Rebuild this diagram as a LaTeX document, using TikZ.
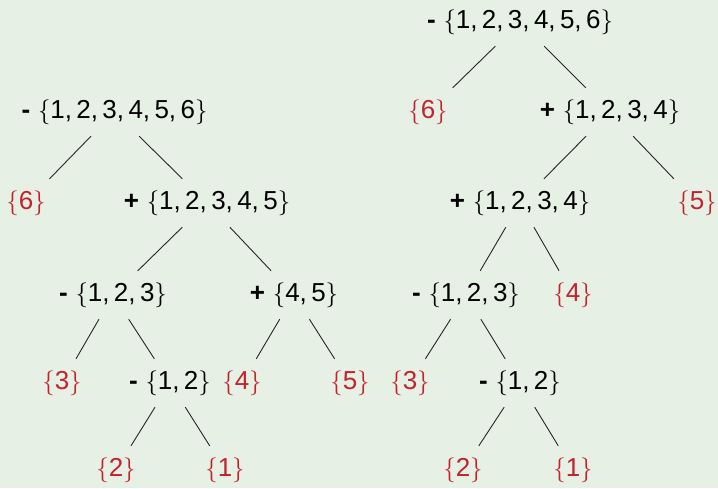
\documentclass[tikz,border=0pt]{standalone}
\usepackage{fontspec}
\setmainfont{Liberation Sans}
\definecolor{bg}{HTML}{E6F0E4}
\definecolor{leafred}{HTML}{C4232B}
\newcommand{\sset}[1]{$\{$#1$\}$}
\newcommand{\opm}{\textbf{-}\hspace{0.3em}}
\newcommand{\opp}{\textbf{+}\hspace{0.3em}}
\begin{document}
\begin{tikzpicture}[x=1pt,y=-1pt,
  every node/.style={font=\fontsize{26}{30}\selectfont, minimum height=48pt, minimum width=50pt, inner sep=0pt},
  leafset/.style={text=leafred},
  edge/.style={draw=black!85, line width=0.9pt}]
\useasboundingbox (0,0) rectangle (718,488);
\fill[bg] (0,0) rectangle (718,488);
% left tree
\node (L0) at (114.5,112) {\opm\sset{1,\,2,\,3,\,4,\,5,\,6}};
\node[leafset] (L1) at (26,203) {\sset{6}};
\node (L2) at (207,203) {\opp\sset{1,\,2,\,3,\,4,\,5}};
\node (L3) at (113,295) {\opm\sset{1,\,2,\,3}};
\node (L4) at (294,295) {\opp\sset{4,\,5}};
\node[leafset] (L5) at (62,383) {\sset{3}};
\node (L6) at (170,383) {\opm\sset{1,\,2}};
\node[leafset] (L7) at (242,383) {\sset{4}};
\node[leafset] (L8) at (350,383) {\sset{5}};
\node[leafset] (L9) at (116,470) {\sset{2}};
\node[leafset] (L10) at (225,470) {\sset{1}};
\draw[edge] (L0) -- (L1);
\draw[edge] (L0) -- (L2);
\draw[edge] (L2) -- (L3);
\draw[edge] (L2) -- (L4);
\draw[edge] (L3) -- (L5);
\draw[edge] (L3) -- (L6);
\draw[edge] (L4) -- (L7);
\draw[edge] (L4) -- (L8);
\draw[edge] (L6) -- (L9);
\draw[edge] (L6) -- (L10);
% right tree
\node (R0) at (520,22) {\opm\sset{1,\,2,\,3,\,4,\,5,\,6}};
\node[leafset] (R1) at (428,112) {\sset{6}};
\node (R2) at (610,112) {\opp\sset{1,\,2,\,3,\,4}};
\node (R3) at (520,203) {\opp\sset{1,\,2,\,3,\,4}};
\node[leafset] (R4) at (697,203) {\sset{5}};
\node (R5) at (466,295) {\opm\sset{1,\,2,\,3}};
\node[leafset] (R6) at (573,295) {\sset{4}};
\node[leafset] (R7) at (410,383) {\sset{3}};
\node (R8) at (520,383) {\opm\sset{1,\,2}};
\node[leafset] (R9) at (463,470) {\sset{2}};
\node[leafset] (R10) at (573,470) {\sset{1}};
\draw[edge] (R0) -- (R1);
\draw[edge] (R0) -- (R2);
\draw[edge] (R2) -- (R3);
\draw[edge] (R2) -- (R4);
\draw[edge] (R3) -- (R5);
\draw[edge] (R3) -- (R6);
\draw[edge] (R5) -- (R7);
\draw[edge] (R5) -- (R8);
\draw[edge] (R8) -- (R9);
\draw[edge] (R8) -- (R10);
\end{tikzpicture}
\end{document}
